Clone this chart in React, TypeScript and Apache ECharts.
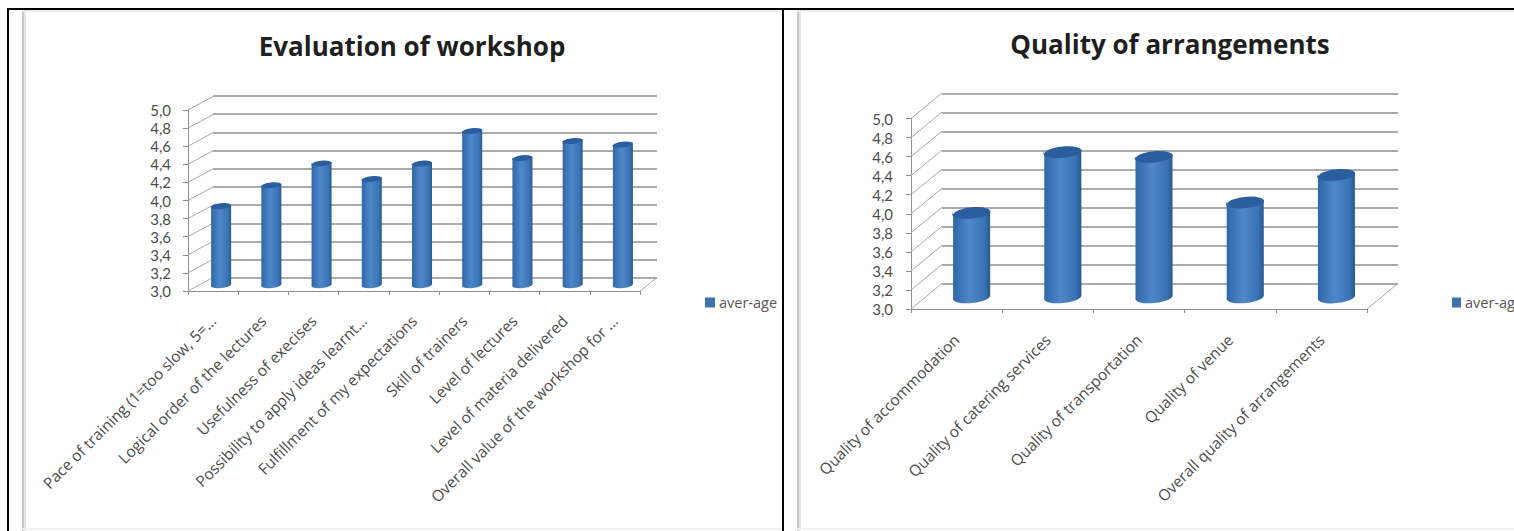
import React, { useEffect, useRef } from "react";
import * as echarts from "echarts";

const workshopCategories = [
  "Pace of training (1=too slow, 5=…",
  "Logical order of the lectures",
  "Usefulness of execises",
  "Possibility to apply ideas learnt…",
  "Fulfillment of my expectations",
  "Skill of trainers",
  "Level of lectures",
  "Level of materia delivered",
  "Overall value of the workshop for …",
];
const workshopValues = [3.87, 4.1, 4.34, 4.17, 4.34, 4.7, 4.4, 4.59, 4.55];

const arrangementCategories = [
  "Quality of accommodation",
  "Quality of catering services",
  "Quality of transportation",
  "Quality of venue",
  "Overall quality of arrangements",
];
const arrangementValues = [3.88, 4.52, 4.47, 3.99, 4.28];

const scaleTicks = [3, 3.2, 3.4, 3.6, 3.8, 4, 4.2, 4.4, 4.6, 4.8, 5];
const seriesName = "aver-age";
const chartTitles = ["Evaluation of workshop", "Quality of arrangements"];

const FONT = "'Open Sans', Lato, sans-serif";
const VALUE_FONT = "Lato, 'Open Sans', sans-serif";
const LINE = "#8f8f8f";

interface PanelLayout {
  front: { left: number; top: number; width: number; height: number };
  back: { left: number; top: number; width: number; height: number };
  mid: { left: number; top: number; width: number; height: number };
  wallDx: number;
  wallDy: number;
  floorDx: number;
  barRx: number;
  barRy: number;
  barTilt: number;
  labelMargin: number;
  valueSize: number;
  valueMargin: number;
  categorySize: number;
}

const layoutA: PanelLayout = {
  front: { left: 188, top: 110, width: 452, height: 181 },
  back: { left: 213, top: 96, width: 444, height: 182 },
  mid: { left: 196, top: 103.5, width: 452, height: 181 },
  wallDx: 25,
  wallDy: 13.5,
  floorDx: 17,
  barRx: 10,
  barRy: 3,
  barTilt: 1,
  labelMargin: 27,
  valueSize: 15,
  valueMargin: 17,
  categorySize: 15.5,
};

const layoutB: PanelLayout = {
  front: { left: 911, top: 118.5, width: 456, height: 190.5 },
  back: { left: 942, top: 93.3, width: 456, height: 190 },
  mid: { left: 926, top: 106, width: 456, height: 190 },
  wallDx: 31,
  wallDy: 25.5,
  floorDx: 31,
  barRx: 18.5,
  barRy: 6,
  barTilt: 2,
  labelMargin: 28,
  valueSize: 15,
  valueMargin: 18,
  categorySize: 15.5,
};

// Draws one cylinder standing on the mid-depth plane of the panel.
function cylinderRenderer(p: PanelLayout) {
  return (_params: any, api: any) => {
    const idx = api.value(0);
    const top = api.coord([idx, api.value(1)]);
    const base = api.coord([idx, 3]);
    const { barRx: rx, barRy: ry, barTilt: t } = p;
    const xl = top[0] - rx;
    const xr = top[0] + rx;
    const angle = (-Math.atan2(t * 2, rx * 2) * 180) / Math.PI;
    const body =
      `M${xl} ${top[1] + t}L${xl} ${base[1] + t}` +
      `A${rx} ${ry} ${angle} 0 0 ${xr} ${base[1] - t}` +
      `L${xr} ${top[1] - t}Z`;
    const cap =
      `M${xl} ${top[1] + t}A${rx} ${ry} ${angle} 1 1 ${xr} ${top[1] - t}` +
      `A${rx} ${ry} ${angle} 1 1 ${xl} ${top[1] + t}Z`;
    return {
      type: "group",
      children: [
        {
          type: "path",
          shape: { pathData: body },
          style: {
            fill: new echarts.graphic.LinearGradient(0, 0, 1, 0, [
              { offset: 0, color: "#2f66a8" },
              { offset: 0.45, color: "#4f88c8" },
              { offset: 0.85, color: "#3a72b4" },
              { offset: 1, color: "#27598f" },
            ]),
          },
        },
        { type: "path", shape: { pathData: cap }, style: { fill: "#2a5e9f" } },
      ],
    };
  };
}

// Draws the receding edges of the side wall and the right side of the floor.
function wallRenderer(p: PanelLayout) {
  return (params: any, api: any) => {
    const pt = api.coord([0, api.value(1)]);
    const x0 = params.coordSys.x;
    const children: any[] = [
      {
        type: "line",
        shape: { x1: x0, y1: pt[1], x2: x0 + p.wallDx, y2: pt[1] - p.wallDy },
        style: { stroke: "#a8a8a8", lineWidth: 1 },
      },
    ];
    if (params.dataIndex === 0) {
      const x1 = x0 + params.coordSys.width;
      children.push({
        type: "line",
        shape: { x1, y1: pt[1], x2: x1 + p.floorDx, y2: pt[1] - p.wallDy },
        style: { stroke: "#a8a8a8", lineWidth: 1 },
      });
    }
    return { type: "group", children };
  };
}

function buildPanel(p: PanelLayout, categories: string[], values: number[], offset: number) {
  const [back, front, mid] = [offset, offset + 1, offset + 2];
  const grid = [p.back, p.front, p.mid];
  const hiddenX = (i: number) => ({
    type: "category",
    gridIndex: i,
    data: categories,
    show: false,
  });
  const xAxis = [
    hiddenX(back),
    {
      type: "category",
      gridIndex: front,
      data: categories,
      axisLine: { show: true, lineStyle: { color: LINE, width: 1 } },
      axisTick: { show: true, length: 4, lineStyle: { color: LINE } },
      axisLabel: {
        rotate: 45,
        interval: 0,
        margin: p.labelMargin,
        color: "#4d4d4d",
        fontFamily: FONT,
        fontSize: p.categorySize,
      },
    },
    hiddenX(mid),
  ];
  const valueScale = { type: "value", min: 3, max: 5, interval: 0.2 };
  const yAxis = [
    {
      ...valueScale,
      gridIndex: back,
      axisLine: { show: false },
      axisTick: { show: false },
      axisLabel: { show: false },
      splitLine: { show: true, lineStyle: { color: LINE, width: 1.5 } },
    },
    {
      ...valueScale,
      gridIndex: front,
      axisLine: { show: true, lineStyle: { color: LINE, width: 1 } },
      axisTick: { show: true, length: 5, lineStyle: { color: LINE } },
      axisLabel: {
        margin: p.valueMargin,
        color: "#4d4d4d",
        fontFamily: VALUE_FONT,
        fontSize: p.valueSize,
        formatter: (v: number) => v.toFixed(1).replace(".", ","),
      },
      splitLine: { show: false },
    },
    { ...valueScale, gridIndex: mid, show: false, splitLine: { show: false } },
  ];
  const series = [
    {
      type: "custom",
      name: "walls" + offset,
      xAxisIndex: front,
      yAxisIndex: front,
      renderItem: wallRenderer(p),
      data: scaleTicks.map((v) => [0, v]),
      silent: true,
      z: 1,
    },
    {
      type: "custom",
      name: seriesName,
      xAxisIndex: mid,
      yAxisIndex: mid,
      renderItem: cylinderRenderer(p),
      itemStyle: { color: "#3f73b0" },
      encode: { x: 0, y: 1 },
      data: values.map((v, i) => [i, v]),
      z: 3,
    },
  ];
  return { grid, xAxis, yAxis, series };
}

function frameGraphics() {
  const rect = (x: number, y: number, width: number, height: number, fill: string, z = 10) => ({
    type: "rect",
    shape: { x, y, width, height },
    style: { fill },
    z,
    silent: true,
  });
  return [
    rect(22, 10, 2, 521, "#c8c8c8"),
    rect(24, 10, 2, 521, "#e6e6e6"),
    rect(797, 10, 2, 521, "#c8c8c8"),
    rect(799, 10, 2, 521, "#e6e6e6"),
    rect(22, 10, 760, 2, "#ececec"),
    rect(797, 10, 717, 2, "#ececec"),
    rect(22, 528, 760, 2, "#f1f1f1"),
    rect(797, 528, 717, 2, "#f1f1f1"),
    rect(7, 8, 1507, 2, "#000000", 20),
    rect(7, 8, 2, 523, "#000000", 20),
    rect(782, 8, 2, 523, "#000000", 20),
  ];
}

export default function App() {
  const ref = useRef<HTMLDivElement>(null);

  useEffect(() => {
    if (!ref.current) return;
    const chart = echarts.init(ref.current, undefined, { renderer: "svg" });
    const a = buildPanel(layoutA, workshopCategories, workshopValues, 0);
    const b = buildPanel(layoutB, arrangementCategories, arrangementValues, 3);
    const titleStyle = {
      fontFamily: FONT,
      fontWeight: "bold" as const,
      fontSize: 26,
      color: "#1f1f1f",
    };
    const legendText = { fontFamily: FONT, fontSize: 14.5, color: "#555555", padding: [0, 0, 0, -1] };
    chart.setOption({
      animation: false,
      backgroundColor: "#ffffff",
      title: [
        { text: chartTitles[0], left: 412, top: 33, textAlign: "center", padding: 0, textStyle: titleStyle },
        { text: chartTitles[1], left: 1170, top: 31, textAlign: "center", padding: 0, textStyle: titleStyle },
      ],
      legend: [
        {
          data: [seriesName],
          left: 705,
          top: 295,
          padding: 0,
          itemWidth: 10,
          itemHeight: 10,
          itemGap: 0,
          selectedMode: false,
          icon: "rect",
          textStyle: legendText,
        },
        {
          data: [seriesName],
          left: 1452,
          top: 295,
          padding: 0,
          itemWidth: 9,
          itemHeight: 10,
          itemGap: 0,
          selectedMode: false,
          icon: "rect",
          textStyle: legendText,
        },
      ],
      grid: [...a.grid, ...b.grid],
      xAxis: [...a.xAxis, ...b.xAxis],
      yAxis: [...a.yAxis, ...b.yAxis],
      series: [...a.series, ...b.series],
      graphic: frameGraphics(),
    });
    return () => chart.dispose();
  }, []);

  return (
    <div
      ref={ref}
      style={{ position: "absolute", left: 0, top: 0, width: 1514, height: 531, overflow: "hidden" }}
    />
  );
}
